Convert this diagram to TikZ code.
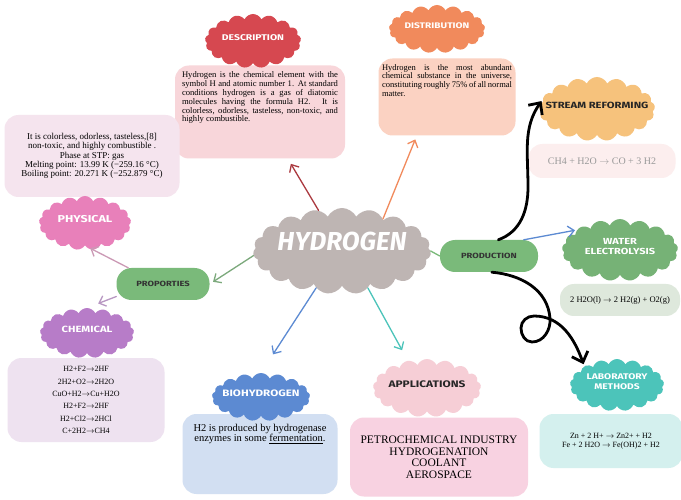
\documentclass[tikz,border=0pt]{standalone}
\usepackage{fontspec}
\setmainfont{Liberation Serif}
\newfontfamily\headfont{Fira Sans}[FakeStretch=1.25]
\newfontfamily\bigfont{Fira Sans}
\usepackage{tikz}
\usetikzlibrary{arrows.meta,shapes.symbols}
\usepackage{xcolor}
\definecolor{hydgray}{RGB}{190,181,179}
\definecolor{descred}{RGB}{214,72,80}
\definecolor{descpink}{RGB}{248,214,218}
\definecolor{distorange}{RGB}{241,138,92}
\definecolor{distpeach}{RGB}{251,210,194}
\definecolor{streamorange}{RGB}{246,194,124}
\definecolor{streampink}{RGB}{252,238,238}
\definecolor{physpink}{RGB}{232,128,186}
\definecolor{physlight}{RGB}{245,228,238}
\definecolor{leaf}{RGB}{122,186,122}
\definecolor{chempurple}{RGB}{183,124,200}
\definecolor{chemlight}{RGB}{238,226,240}
\definecolor{bioblue}{RGB}{92,138,210}
\definecolor{biolight}{RGB}{210,223,242}
\definecolor{apppink}{RGB}{246,206,214}
\definecolor{applight}{RGB}{248,210,225}
\definecolor{watergreen}{RGB}{118,178,118}
\definecolor{waterlight}{RGB}{222,232,220}
\definecolor{labteal}{RGB}{76,196,186}
\definecolor{lablight}{RGB}{212,240,238}
% cloud label that does not grow the cloud
\newcommand\pufftext[1]{\smash{\makebox[0pt]{\begin{tabular}{@{}c@{}}#1\end{tabular}}}}
\newcommand\headsize[1]{\headfont\bfseries\fontsize{#1}{#1}\selectfont}

\begin{document}
\begin{tikzpicture}[x=1pt,y=1pt,line cap=round,
  puff/.style={cloud,cloud puffs=17,cloud puff arc=130,inner sep=0pt,text=white},
  pill/.style={rounded corners=15,fill=leaf,text=black!80,font=\headsize{7.5}},
  infobox/.style={rounded corners=14,inner sep=0pt},
  link/.style={-{Straight Barb[length=6pt,width=11pt]},line width=1.3pt},
  swirl/.style={-{Straight Barb[length=9pt,width=17pt]},line width=2.8pt}]
\useasboundingbox (0,0) rectangle (681,499);
\fill[white] (0,0) rectangle (681,499);
% boxes
\node[infobox,fill=descpink,minimum width=170,minimum height=93] (descbox) at (260,387)
  {\parbox[c][81pt][t]{156pt}{\fontsize{8.6}{8.9}\selectfont\hyphenpenalty=10000
   Hydrogen is the chemical element with the symbol H and atomic number 1. At standard conditions hydrogen is a gas of diatomic molecules having the formula H2. It is colorless, odorless, tasteless, non-toxic, and highly combustible.}};
\node[infobox,fill=distpeach,minimum width=137,minimum height=77] (distbox) at (447,402)
  {\parbox[c][65pt][t]{130pt}{\fontsize{8.5}{8.6}\selectfont\hyphenpenalty=10000
   Hydrogen is the most abundant chemical substance in the universe, constituting roughly 75\% of all normal matter.}};
\node[infobox,fill=streampink,minimum width=147,minimum height=34,text=black!40,
  font=\fontsize{10}{11}\selectfont] (streambox) at (602,338) {CH4 + H2O $\rightarrow$ CO + 3 H2};
\node[infobox,fill=physlight,minimum width=175,minimum height=82,align=center,
  font=\fontsize{9}{9.3}\selectfont] (physbox) at (92,343)
  {It is colorless, odorless, tasteless,[8]\\non-toxic, and highly combustible .\\Phase at STP: gas\\
   Melting point: 13.99 K (−259.16 °C)\\Boiling point: 20.271 K (−252.879 °C)};
\node[infobox,fill=chemlight,minimum width=157,minimum height=84,align=center,
  font=\fontsize{8}{12.4}\selectfont] (chembox) at (86,99)
  {H2+F2$\rightarrow$2HF\\2H2+O2$\rightarrow$2H2O\\CuO+H2$\rightarrow$Cu+H2O\\
   H2+F2$\rightarrow$2HF\\H2+Cl2$\rightarrow$2HCl\\C+2H2$\rightarrow$CH4};
\node[infobox,fill=biolight,minimum width=155,minimum height=80] (biobox) at (260,45)
  {\parbox[c][60pt][t]{145pt}{\centering\fontsize{10.5}{10.5}\selectfont H2 is produced by hydrogenase enzymes in some \underline{fermentation}.}};
\node[infobox,fill=applight,minimum width=178,minimum height=79,align=center,
  font=\fontsize{11.5}{11.5}\selectfont] (appbox) at (439,42)
  {PETROCHEMICAL INDUSTRY\\HYDROGENATION\\COOLANT\\AEROSPACE};
\node[infobox,fill=waterlight,minimum width=120,minimum height=32,
  font=\fontsize{8.5}{9}\selectfont] (waterbox) at (620,199) {2 H2O(l) $\rightarrow$ 2 H2(g) + O2(g)};
\node[infobox,fill=lablight,minimum width=143,minimum height=54,align=center,
  font=\fontsize{8}{9.5}\selectfont] (labbox) at (611,58)
  {Zn + 2 H+ $\rightarrow$ Zn2+ + H2\\Fe + 2 H2O $\rightarrow$ Fe(OH)2 + H2};
% clouds and pills
\node[puff,fill=hydgray,cloud puffs=19,cloud puff arc=125,minimum width=178,minimum height=86,
  font=\bigfont\bfseries\itshape\fontsize{26}{28}\selectfont] (hyd) at (342,248) {\pufftext{HYDROGEN}};
\node[puff,fill=descred,minimum width=96,minimum height=54,font=\headsize{8.3}] (desc) at (253,458) {\pufftext{DESCRIPTION}};
\node[puff,fill=distorange,minimum width=96,minimum height=48,font=\headsize{8.1}] (dist) at (437,470) {\pufftext{DISTRIBUTION}};
\node[puff,fill=streamorange,text=black!85,minimum width=116,minimum height=64,font=\headsize{9}] (stream) at (597,390) {\pufftext{STREAM REFORMING}};
\node[puff,fill=physpink,minimum width=92,minimum height=54,font=\headsize{10}] (phys) at (85,276) {\pufftext{PHYSICAL}};
\node[puff,fill=chempurple,minimum width=94,minimum height=50,font=\headsize{9}] (chem) at (87,166) {\pufftext{CHEMICAL}};
\node[puff,fill=bioblue,minimum width=98,minimum height=48,font=\headsize{9.3}] (bio) at (261,102) {\pufftext{BIOHYDROGEN}};
\node[puff,fill=apppink,text=black!85,minimum width=108,minimum height=58,font=\headsize{9.5}] (app) at (427,111) {\pufftext{APPLICATIONS}};
\node[puff,fill=watergreen,minimum width=116,minimum height=62,font=\headsize{8.8}] (water) at (620,249) {\pufftext{WATER\\[2pt]ELECTROLYSIS}};
\node[puff,fill=labteal,minimum width=94,minimum height=52,font=\headsize{8.2}] (lab) at (617,114) {\pufftext{LABORATORY\\[2pt]METHODS}};
\node[pill,minimum width=93,minimum height=32] (prop) at (163,215) {PROPORTIES};
\node[pill,minimum width=98,minimum height=32] (prod) at (489,243) {PRODUCTION};
% connectors
\draw[link,descred!80!black,shorten >=6] (hyd.120) -- (descbox);
\draw[link,distorange,shorten >=4] (hyd.38) -- (distbox.232);
\draw[link,leaf!70!gray,shorten >=4] (hyd.183) -- (prop.east);
\draw[link,bioblue,shorten >=22] (hyd.235) -- (bio.north);
\draw[link,labteal,shorten >=12] (hyd.-55) -- (app.125);
\draw[leaf,line width=1.3pt] (hyd.east) -- (prod.west);
\draw[link,physpink!60!gray!80,shorten >=6] (prop.155) -- (phys.south);
\draw[link,chempurple!70!gray!80,shorten >=12] (prop.195) -- (chem.north);
\draw[link,bioblue,shorten >=2] (prod.25) -- (water.155);
\coordinate (s1) at (528,312);
\draw[swirl,shorten >=2] (prod.60) to[out=20,in=-90] (s1) to[out=90,in=-125] (stream.170);
\coordinate (l1) at (550,181);
\coordinate (l2) at (532,157);
\coordinate (l3) at (521,171);
\coordinate (l4) at (534,183);
\draw[swirl,shorten >=2] (prod.-80) to[out=-5,in=95] (l1) to[out=-85,in=0] (l2)
  to[out=180,in=-90] (l3) to[out=90,in=180] (l4) to[out=0,in=110] (lab.150);
\end{tikzpicture}
\end{document}
